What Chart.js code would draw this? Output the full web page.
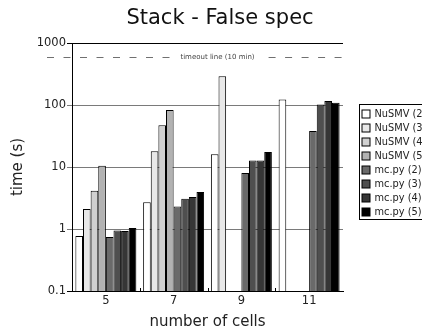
<!DOCTYPE html>
<html>
<head>
<meta charset="utf-8">
<script src="https://cdn.jsdelivr.net/npm/chart.js@4/dist/chart.umd.min.js"></script>
<style>
  html, body { margin: 0; padding: 0; background: #fff; overflow: hidden; }
  canvas { display: block; }
</style>
</head>
<body>
<canvas id="myChart" width="422" height="335"></canvas>
<script>
// values (seconds, log axis)
var cells    = ['5', '7', '9', '11'];
var nusmv2   = [0.77, 2.7, 16, 123];
var nusmv3   = [2.1, 18, 292, null];
var nusmv4   = [4.15, 47, null, null];
var nusmv5   = [10.5, 83, null, null];
var mcpy2    = [0.74, 2.3, 8.0, 38];
var mcpy3    = [0.95, 3.08, 12.7, 102];
var mcpy4    = [0.93, 3.28, 12.7, 116];
var mcpy5    = [1.04, 3.95, 17.4, 109];
var yTicks   = [0.1, 1, 10, 100, 1000];
var timeout  = 600;

var names  = ['NuSMV (2)', 'NuSMV (3)', 'NuSMV (4)', 'NuSMV (5)', 'mc.py (2)', 'mc.py (3)', 'mc.py (4)', 'mc.py (5)'];
var series = [nusmv2, nusmv3, nusmv4, nusmv5, mcpy2, mcpy3, mcpy4, mcpy5];
var colors = ['#ffffff', '#e8e8e8', '#d0d0d0', '#b2b2b2', '#6a6a6a', '#4f4f4f', '#363636', '#000000'];

Chart.defaults.font.family = 'DejaVu Sans';
Chart.defaults.color = '#222';

// title, dashed timeout line with its label, inward ticks between groups
const extrasPlugin = {
    id: 'extras',
    afterDatasetsDraw(chart) {
        const ctx = chart.ctx, a = chart.chartArea;
        const y = Math.round(chart.scales.y.getPixelForValue(timeout)) + 0.5;
        const label = 'timeout line (10 min)';
        ctx.save();
        ctx.font = '21px DejaVu Sans';
        ctx.fillStyle = '#111';
        ctx.textAlign = 'center';
        ctx.textBaseline = 'alphabetic';
        ctx.fillText('Stack - False spec', 220, 24);

        ctx.font = '7px DejaVu Sans';
        const cx = 217.5;
        const w = ctx.measureText(label).width;
        ctx.strokeStyle = '#707070';
        ctx.lineWidth = 1;
        ctx.setLineDash([7, 9.5]);
        ctx.beginPath();
        ctx.moveTo(a.left - 25, y); ctx.lineTo(cx - w / 2 - 9, y);
        ctx.stroke();
        ctx.beginPath();
        ctx.moveTo(cx + w / 2 + 14, y); ctx.lineTo(a.right, y);
        ctx.stroke();
        ctx.fillStyle = '#444';
        ctx.textBaseline = 'middle';
        ctx.fillText(label, cx, y);

        const xs = chart.scales.x;
        ctx.setLineDash([]);
        ctx.strokeStyle = '#000';
        for (let i = 1; i < cells.length; i++) {
            const px = Math.round((xs.getPixelForValue(i - 1) + xs.getPixelForValue(i)) / 2) + 0.5;
            ctx.beginPath();
            ctx.moveTo(px, a.bottom); ctx.lineTo(px, a.bottom - 3);
            ctx.stroke();
        }
        ctx.restore();
    }
};

// boxed legend at the right, clipped by the canvas edge
const legendPlugin = {
    id: 'boxLegend',
    afterDraw(chart) {
        const ctx = chart.ctx;
        const x0 = 359.5, y0 = 104.5, rowH = 14;
        ctx.save();
        ctx.strokeStyle = '#000';
        ctx.lineWidth = 1;
        ctx.strokeRect(x0, y0, 80, rowH * names.length + 3);
        ctx.font = '9.8px DejaVu Sans';
        ctx.textBaseline = 'middle';
        names.forEach(function (n, i) {
            const y = y0 + 5.5 + i * rowH;
            ctx.fillStyle = colors[i];
            ctx.fillRect(x0 + 2.5, y, 8, 8);
            ctx.strokeRect(x0 + 2.5, y, 8, 8);
            ctx.fillStyle = '#222';
            ctx.fillText(n, x0 + 15, y + 4.5);
        });
        ctx.restore();
    }
};

const data = {
    labels: cells,
    datasets: series.map(function (s, i) {
        return {label: names[i], data: s, backgroundColor: colors[i], borderColor: '#000', borderWidth: 1,
                categoryPercentage: 0.9, barPercentage: 1.0};
    })
};

const config = {
    type: 'bar',
    data: data,
    options: {
        responsive: false,
        animation: false,
        layout: {padding: {left: 0, right: 79, top: 43, bottom: 0}},
        plugins: {
            legend: {display: false},
            tooltip: {enabled: false},
            title: {display: false}
        },
        scales: {
            x: {
                grid: {display: false, drawTicks: false, tickLength: 0},
                border: {color: '#000', width: 1},
                ticks: {font: {size: 11.5}, color: '#222', padding: 3},
                title: {display: true, text: 'number of cells', font: {size: 15}, color: '#222', padding: 4},
                afterFit: function (s) { s.height = 44; }
            },
            y: {
                type: 'logarithmic',
                min: 0.1,
                max: 1000,
                afterBuildTicks: function (s) { s.ticks = yTicks.map(function (v) { return {value: v}; }); },
                ticks: {font: {size: 11.5}, color: '#222', padding: 1,
                        callback: function (v) { return String(v); }},
                grid: {tickLength: 5,
                       color: function (c) { return (c.tick && (c.tick.value === 1000 || c.tick.value === 0.1)) ? '#000' : '#7a7a7a'; }},
                border: {color: '#000', width: 1},
                title: {display: true, text: 'time (s)', font: {size: 15}, color: '#222', padding: 9},
                afterFit: function (s) { s.width = 72; }
            }
        }
    },
    plugins: [extrasPlugin, legendPlugin]
};

const myChart = new Chart(document.querySelector('#myChart'), config);
</script>
</body>
</html>
